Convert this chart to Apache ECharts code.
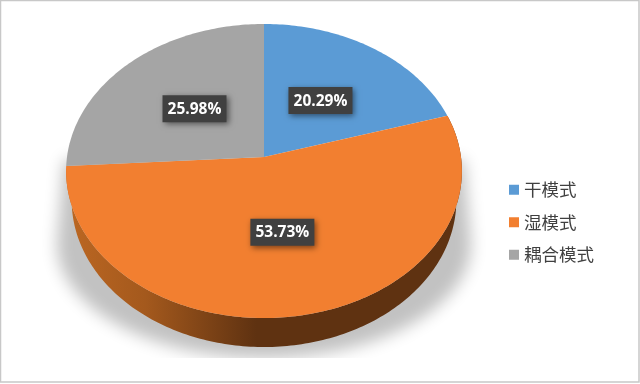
<!DOCTYPE html>
<html><head><meta charset="utf-8">
<style>html,body{margin:0;padding:0;background:#fff}#c{width:640px;height:384px}</style>
<script src="https://cdn.jsdelivr.net/npm/echarts@6/dist/echarts.min.js"></script>
</head><body><div id="c"></div>
<script>
const categories = ['干模式', '湿模式', '耦合模式'];
const shares = [20.29, 53.73, 25.98];
const colors = ['#5B9BD5', '#F27F30', '#A5A5A5'];

const total = shares.reduce((a, b) => a + b, 0);
const CX = 264, CY = 157, AX = 197, AY = 145.7, K = 0.0952;
function proj(deg, r, dy, sx) {
  const t = deg * Math.PI / 180, X = r * Math.sin(t), Y = r * Math.cos(t), d = 1 + K * Y;
  return [CX + (sx || 1) * AX * X / d, CY + (dy || 0) + AY * -Y / d];
}
function startOf(i) { let s = 0; for (let j = 0; j < i; j++) s += shares[j]; return s / total * 360; }

function sliceRender(i) {
  return function () {
    const a0 = startOf(i), a1 = a0 + shares[i] / total * 360, pts = [proj(0, 0)];
    const n = Math.ceil(a1 - a0);
    for (let k = 0; k <= n; k++) pts.push(proj(a0 + (a1 - a0) * k / n, 1));
    const m = proj((a0 + a1) / 2, 0.5);
    return {
      type: 'group', children: [
        { type: 'polygon', shape: { points: pts }, style: { fill: colors[i] }, z2: 5 },
        { type: 'rect', z2: 19, shape: { x: m[0] - 32, y: m[1] - 13.5, width: 64, height: 27 }, style: {
            fill: '#404040', shadowBlur: 6, shadowColor: 'rgba(0,0,0,0.5)', shadowOffsetX: 2, shadowOffsetY: 2 } },
        { type: 'text', x: m[0], y: m[1] + 0.5, z2: 20, style: {
            text: shares[i].toFixed(2) + '%', fill: '#fff', align: 'center', verticalAlign: 'middle',
            font: 'bold 15.5px "Open Sans"' } }
      ]
    };
  };
}
function wallRender() {
  const a0 = startOf(1), a1 = a0 + shares[1] / total * 360, pts = [];
  const n = Math.ceil(a1 - a0);
  for (let k = 0; k <= n; k++) pts.push(proj(a0 + (a1 - a0) * k / n, 1));
  for (let k = n; k >= 0; k--) pts.push(proj(a0 + (a1 - a0) * k / n, 1, 29, 0.972));
  return { type: 'polygon', shape: { points: pts }, z2: 3, style: {
    fill: { type: 'linear', x: 0, y: 0, x2: 1, y2: 0, colorStops: [
      { offset: 0, color: '#BC6722' }, { offset: 0.2, color: '#A4591D' },
      { offset: 0.48, color: '#5F3211' }, { offset: 1, color: '#5F3211' }] } } };
}
function shadowRender() {
  const off = 2000, pts = [[64 - off, 160], [464 - off, 160]];
  for (let k = 0; k <= 180; k += 3) {
    const t = k * Math.PI / 180;
    pts.push([264 - off + 207 * Math.cos(t), 244 + 114 * Math.sin(t)]);
  }
  return { type: 'polygon', shape: { points: pts }, z2: 1,
    clipPath: { type: 'rect', shape: { x: -off, y: 0, width: 640 + off, height: 358 } },
    style: { fill: '#C2C2C2', shadowBlur: 16, shadowColor: '#C2C2C2', shadowOffsetX: off } };
}
const base = { type: 'custom', coordinateSystem: 'none', silent: true, animation: false };
const series = [
  Object.assign({}, base, { name: 'shadow', data: [0], renderItem: shadowRender, z: 1 }),
  Object.assign({}, base, { name: 'wall', data: [shares[1]], renderItem: wallRender, z: 2 })
].concat(categories.map((c, i) => Object.assign({}, base, {
  name: c, data: [shares[i]], renderItem: sliceRender(i), z: 3, itemStyle: { color: colors[i] }
})));
const chart = echarts.init(document.getElementById('c'), null, { renderer: 'canvas' });
chart.setOption({
  animation: false, backgroundColor: '#fff',
  color: colors,
  legend: {
    data: categories, orient: 'vertical', left: 504, top: 176, itemWidth: 10, itemHeight: 10,
    itemGap: 15, selectedMode: false, icon: 'rect',
    textStyle: { color: '#404040', fontSize: 17.5, fontFamily: '"Noto Sans CJK SC"' }
  },
  graphic: [{ type: 'rect', silent: true, z: 100, shape: { x: 0.5, y: 0.5, width: 638.5, height: 381.5 },
    style: { fill: 'none', stroke: '#C8C8C8', lineWidth: 1.5 } }],
  series
});
</script></body></html>
